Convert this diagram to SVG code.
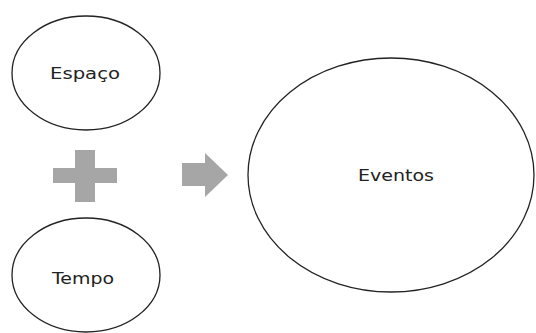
<svg xmlns="http://www.w3.org/2000/svg" width="536" height="333" viewBox="0 0 536 333">
<style>
.node ellipse{fill:#fff;stroke:#222;stroke-width:1.3}
.node text{font-family:"DejaVu Sans",Verdana,sans-serif;font-size:15px;fill:#222}
.sym{fill:#a6a6a6}
</style>
<rect width="536" height="333" fill="#fff"/>
<g id="espaco" class="node">
<ellipse cx="86" cy="73" rx="74" ry="57"/>
<text x="50" y="79" textLength="70" lengthAdjust="spacingAndGlyphs">Espaço</text>
</g>
<g id="tempo" class="node">
<ellipse cx="86" cy="275" rx="74" ry="57"/>
<text x="52" y="284" textLength="62" lengthAdjust="spacingAndGlyphs">Tempo</text>
</g>
<g id="eventos" class="node">
<ellipse cx="391" cy="175" rx="143" ry="117"/>
<text x="358" y="181" textLength="76" lengthAdjust="spacingAndGlyphs">Eventos</text>
</g>
<g id="connectors">
<path class="sym" d="M75 150H95V168H117V183H95V202H75V183H53V168H75Z"/>
<path class="sym" d="M182 163H205V153L228 175L205 197V186H182Z"/>
</g>
</svg>
